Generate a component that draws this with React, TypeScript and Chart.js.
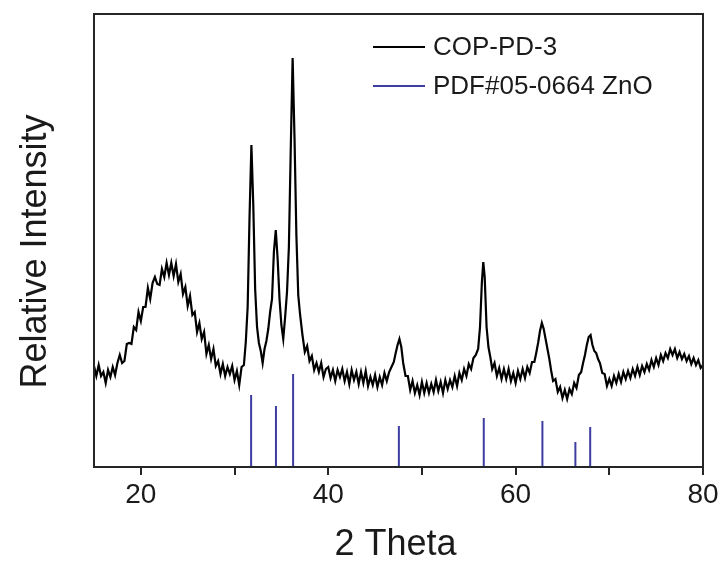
import React, { useEffect, useRef } from "react";
import { Chart, registerables } from "chart.js";

Chart.register(...registerables);

// 2-theta positions of the measured pattern (degrees)
const twoTheta = [
  15.0, 15.25, 15.5, 15.75, 16.0, 16.25, 16.5, 16.75, 17.0, 17.25, 17.5, 17.75,
  18.0, 18.25, 18.5, 18.75, 19.0, 19.25, 19.5, 19.75, 20.0, 20.25, 20.5, 20.75,
  21.0, 21.25, 21.5, 21.75, 22.0, 22.25, 22.5, 22.75, 23.0, 23.25, 23.5, 23.75,
  24.0, 24.25, 24.5, 24.75, 25.0, 25.25, 25.5, 25.75, 26.0, 26.25, 26.5, 26.75,
  27.0, 27.25, 27.5, 27.75, 28.0, 28.25, 28.5, 28.75, 29.0, 29.25, 29.5, 29.75,
  30.0, 30.25, 30.5, 30.75, 31.0, 31.2, 31.4, 31.6, 31.8, 32.0, 32.2, 32.4,
  32.6, 32.8, 33.0, 33.2, 33.4, 33.6, 33.8, 34.0, 34.2, 34.4, 34.6, 34.8,
  35.0, 35.2, 35.4, 35.6, 35.8, 36.0, 36.2, 36.4, 36.6, 36.8, 37.0, 37.25,
  37.5, 37.75, 38.0, 38.25, 38.5, 38.75, 39.0, 39.25, 39.5, 39.75, 40.0, 40.25,
  40.5, 40.75, 41.0, 41.25, 41.5, 41.75, 42.0, 42.25, 42.5, 42.75, 43.0, 43.25,
  43.5, 43.75, 44.0, 44.25, 44.5, 44.75, 45.0, 45.25, 45.5, 45.75, 46.0, 46.25,
  46.5, 46.75, 47.0, 47.2, 47.4, 47.6, 47.8, 48.0, 48.25, 48.5, 48.75, 49.0,
  49.25, 49.5, 49.75, 50.0, 50.25, 50.5, 50.75, 51.0, 51.25, 51.5, 51.75, 52.0,
  52.25, 52.5, 52.75, 53.0, 53.25, 53.5, 53.75, 54.0, 54.25, 54.5, 54.75, 55.0,
  55.25, 55.5, 55.75, 56.0, 56.2, 56.4, 56.55, 56.7, 56.9, 57.1, 57.3, 57.5,
  57.75, 58.0, 58.25, 58.5, 58.75, 59.0, 59.25, 59.5, 59.75, 60.0, 60.25, 60.5,
  60.75, 61.0, 61.25, 61.5, 61.75, 62.0, 62.2, 62.4, 62.6, 62.8, 63.0, 63.2,
  63.4, 63.6, 63.8, 64.0, 64.25, 64.5, 64.75, 65.0, 65.25, 65.5, 65.75, 66.0,
  66.25, 66.5, 66.75, 67.0, 67.2, 67.4, 67.6, 67.8, 68.0, 68.2, 68.4, 68.6,
  68.8, 69.0, 69.25, 69.5, 69.75, 70.0, 70.25, 70.5, 70.75, 71.0, 71.25, 71.5,
  71.75, 72.0, 72.25, 72.5, 72.75, 73.0, 73.25, 73.5, 73.75, 74.0, 74.25, 74.5,
  74.75, 75.0, 75.25, 75.5, 75.75, 76.0, 76.25, 76.5, 76.75, 77.0, 77.25, 77.5,
  77.75, 78.0, 78.25, 78.5, 78.75, 79.0, 79.25, 79.5, 79.75, 80.0,
];

// measured intensity of COP-PD-3 (arbitrary units)
const intensity = [
  101, 91, 102, 91, 95, 84, 97, 90, 100, 92, 104, 112,
  104, 106, 123, 124, 123, 140, 137, 155, 146, 160, 160, 179,
  168, 184, 190, 183, 182, 198, 190, 204, 192, 204, 191, 203,
  185, 193, 173, 180, 161, 171, 152, 155, 135, 144, 128, 135,
  113, 122, 108, 118, 101, 106, 93, 103, 91, 100, 93, 101,
  87, 96, 82, 100, 102, 125, 160, 250, 322, 262, 178, 140,
  124, 116, 104, 118, 126, 138, 155, 168, 215, 237, 208, 168,
  142, 128, 150, 175, 220, 318, 409, 330, 232, 172, 152, 132,
  115, 121, 106, 111, 97, 104, 95, 104, 90, 98, 100, 89,
  97, 86, 97, 90, 98, 86, 95, 83, 97, 87, 95, 83,
  95, 84, 96, 81, 90, 82, 92, 80, 90, 82, 94, 86,
  95, 100, 105, 114, 122, 128, 120, 104, 91, 91, 77, 86,
  74, 82, 72, 85, 74, 84, 74, 83, 75, 87, 76, 85,
  74, 87, 78, 87, 80, 91, 81, 94, 87, 98, 91, 103,
  98, 109, 112, 118, 140, 185, 205, 190, 140, 120, 110, 98,
  104, 91, 99, 88, 98, 88, 98, 86, 94, 84, 96, 88,
  98, 89, 100, 94, 105, 105, 114, 124, 136, 144, 138, 128,
  118, 108, 96, 86, 88, 75, 80, 69, 77, 68, 78, 73,
  84, 79, 92, 95, 104, 112, 122, 130, 132, 122, 116, 114,
  108, 104, 94, 93, 81, 88, 81, 91, 84, 93, 85, 95,
  88, 96, 89, 98, 91, 100, 92, 101, 95, 103, 97, 107,
  100, 109, 102, 112, 106, 114, 109, 118, 112, 118, 109, 115,
  108, 113, 106, 111, 103, 109, 102, 107, 99, 102,
];

// PDF#05-0664 ZnO reference lines
const stickPositions = [31.77, 34.42, 36.25, 47.54, 56.6, 62.86, 66.38, 67.96];
const stickHeights = [72, 61, 93, 41, 49, 46, 25, 40];

const xMajorTicks = [20, 40, 60, 80];
const xMinorTicks = [30, 50, 70];
const seriesLabels = ["COP-PD-3", "PDF#05-0664 ZnO"];
const xTitle = "2 Theta";
const yTitle = "Relative Intensity";

const FONT = "'Liberation Sans', Arial, Helvetica, sans-serif";
const INK = "#1a1a1a";
const STICK = "#3d3da3";

const decorPlugin = {
  id: "decor",
  afterDraw(chart: any) {
    const { ctx, chartArea: a } = chart;
    ctx.save();
    // frame
    ctx.strokeStyle = "#262626";
    ctx.lineWidth = 2;
    ctx.strokeRect(a.left, a.top, a.right - a.left, a.bottom - a.top);

    // legend
    const lx0 = a.left + 279;
    const lx1 = a.left + 331;
    const tx = a.left + 339;
    const rows = [
      { y: a.top + 33, color: "#000000", text: seriesLabels[0] },
      { y: a.top + 72, color: STICK, text: seriesLabels[1] },
    ];
    ctx.font = `26px ${FONT}`;
    ctx.textAlign = "left";
    ctx.textBaseline = "middle";
    rows.forEach((r) => {
      ctx.strokeStyle = r.color;
      ctx.lineWidth = 2;
      ctx.beginPath();
      ctx.moveTo(lx0, r.y);
      ctx.lineTo(lx1, r.y);
      ctx.stroke();
      ctx.fillStyle = INK;
      ctx.fillText(r.text, tx, r.y + 1);
    });

    // axis titles
    ctx.fillStyle = INK;
    ctx.font = `36px ${FONT}`;
    ctx.textAlign = "center";
    ctx.textBaseline = "middle";
    ctx.fillText(xTitle, (a.left + a.right) / 2 - 3, a.bottom + 78);

    ctx.translate(36, (a.top + a.bottom) / 2 + 11);
    ctx.rotate(-Math.PI / 2);
    ctx.fillText(yTitle, 0, 0);
    ctx.restore();
  },
};

export default function App() {
  const canvasRef = useRef<HTMLCanvasElement | null>(null);

  useEffect(() => {
    const canvas = canvasRef.current;
    if (!canvas) return;

    const curve = twoTheta.map((x, i) => ({ x, y: intensity[i] }));
    const sticks: { x: number; y: number | null }[] = [];
    stickPositions.forEach((x, i) => {
      sticks.push({ x, y: 0 });
      sticks.push({ x, y: stickHeights[i] });
      sticks.push({ x, y: null });
    });
    const allTicks = [...xMajorTicks, ...xMinorTicks].sort((p, q) => p - q);

    const chart = new Chart(canvas, {
      type: "line",
      data: {
        datasets: [
          {
            label: seriesLabels[0],
            data: curve,
            borderColor: "#000000",
            borderWidth: 2.2,
            pointRadius: 0,
            tension: 0,
          },
          {
            label: seriesLabels[1],
            data: sticks as any,
            borderColor: STICK,
            borderWidth: 2,
            pointRadius: 0,
            spanGaps: false,
          },
        ],
      },
      options: {
        animation: false,
        responsive: false,
        events: [],
        layout: { padding: { left: 94, top: 14, right: 19, bottom: 0 } },
        plugins: {
          legend: { display: false },
          tooltip: { enabled: false },
        },
        scales: {
          x: {
            type: "linear",
            min: 15,
            max: 80,
            afterBuildTicks: (scale: any) => {
              scale.ticks = allTicks.map((v) => ({ value: v }));
            },
            afterFit: (scale: any) => {
              scale.height = 101;
            },
            grid: {
              display: true,
              drawOnChartArea: false,
              drawTicks: true,
              tickLength: 8,
              tickColor: "#262626",
              tickWidth: 2,
              lineWidth: 2,
            },
            border: { display: false },
            ticks: {
              autoSkip: false,
              maxRotation: 0,
              padding: 3,
              color: INK,
              font: { family: FONT, size: 28 },
              callback: (v: any) => (xMajorTicks.includes(Number(v)) ? String(v) : ""),
            },
          },
          y: {
            display: false,
            min: 0,
            max: 453,
          },
        },
      },
      plugins: [decorPlugin],
    });

    return () => chart.destroy();
  }, []);

  return (
    <div style={{ position: "absolute", left: 0, top: 0, width: 722, height: 568, background: "#fff" }}>
      <canvas ref={canvasRef} width={722} height={568} style={{ display: "block" }} />
    </div>
  );
}
